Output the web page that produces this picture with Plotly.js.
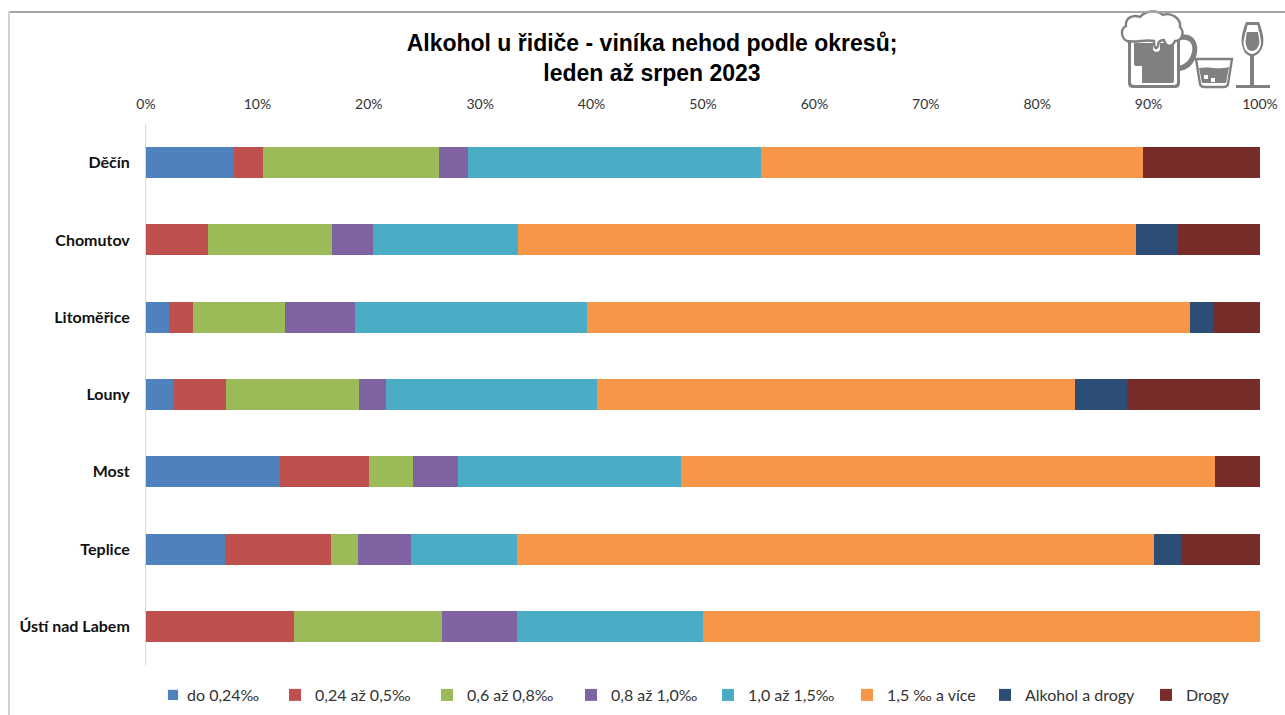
<!DOCTYPE html>
<html><head><meta charset="utf-8">
<script src="https://cdn.plot.ly/plotly-3.0.1.min.js"></script>
<style>html,body{margin:0;padding:0;background:#fff}#c{width:1285px;height:715px}</style></head>
<body><div id="c"></div>
<script>
const districts = ["Děčín","Chomutov","Litoměřice","Louny","Most","Teplice","Ústí nad Labem"];
const tickValues = [0,10,20,30,40,50,60,70,80,90,100];
const tickLabels = ["0%","10%","20%","30%","40%","50%","60%","70%","80%","90%","100%"];
const seriesNames = ["do 0,24‰","0,24 až 0,5‰","0,6 až 0,8‰","0,8 až 1,0‰","1,0 až 1,5‰","1,5 ‰ a více","Alkohol a drogy","Drogy"];
const colors = ["#4F81BD","#C0504D","#9BBB59","#8064A2","#4BACC6","#F79646","#2C4D75","#772C2A"];
const do024 = [7.9,0,2.1,2.4,12,7.1,0];
const r024_05 = [2.6,5.6,2.1,4.8,8,9.5,13.3];
const r06_08 = [15.8,11.1,8.3,11.9,4,2.4,13.3];
const r08_10 = [2.6,3.7,6.25,2.4,4,4.8,6.7];
const r10_15 = [26.3,13,20.8,19,20,9.5,16.7];
const r15plus = [34.3,55.5,54.15,42.9,48,57.2,50];
const alkDrogy = [0,3.7,2.1,4.7,0,2.4,0];
const drogy = [10.5,7.4,4.2,11.9,4,7.1,0];
const values = [do024,r024_05,r06_08,r08_10,r10_15,r15plus,alkDrogy,drogy];
const legendX = [147,275,427,571,708,847,985,1146];
const swatchX = [173,299,450,594,738,873,1015,1176];

const traces = seriesNames.map((n,i)=>({
  type:'bar',orientation:'h',name:n,y:districts,x:values[i],
  marker:{color:colors[i],line:{width:0}},
  legend:i===0?'legend':'legend'+(i+1),hoverinfo:'name+x'
}));

const icons = `<svg xmlns="http://www.w3.org/2000/svg" viewBox="1115 5 165 90" width="660" height="360">
<g fill="#808080" stroke="none">
<path d="M1128 38H1180V83Q1180 88 1175 88H1133Q1128 88 1128 83Z"/>
<path d="M1178 36C1192 30 1199 42 1197 53C1195 64 1187 71 1178 71V66C1185 65 1190 60 1192 52C1194 43 1188 37 1178 41Z"/>
<path d="M1131 41H1177V82Q1177 85 1174 85H1134Q1131 85 1131 82Z" fill="#fff"/>
<path d="M1134 43H1153V50Q1157 54 1160 50V43H1174V81Q1174 83 1172 83H1142V66H1136Q1134 66 1134 64Z"/>
<path d="M1127 41C1121 38 1120 29 1126 26C1125 18 1133 14 1140 17C1146 10 1158 10 1163 15C1171 12 1181 18 1180 27C1185 32 1182 41 1175 41C1172 48 1166 47 1164 40C1160 40 1158 42 1158 46C1156 50 1154 48 1154 41C1146 39 1136 43 1127 41Z" fill="#fff" stroke="#808080" stroke-width="2.4"/>
<path d="M1196 59H1232L1228 84Q1227 87 1224 87H1204Q1201 87 1200 84Z" fill="#fff" stroke="#808080" stroke-width="2.4"/>
<path d="M1199 68C1208 66 1220 70 1229 67L1226 83H1202Z"/>
<path d="M1246 22H1259C1263 32 1265 42 1262 48C1260 53 1257 55 1254 56V85H1270V88H1236V85H1250V56C1247 55 1244 53 1243 48C1240 42 1242 32 1246 22Z"/>
<path d="M1247.5 25H1257.5L1259 32H1246Z" fill="#fff"/>
<path d="M1245.5 32L1243.5 42C1243.5 48 1246 53 1252 54C1258 53 1261 48 1261 42L1259.5 32L1258 32L1259.5 42C1259 47 1256 51 1252 51C1248 51 1246 47 1245.5 42L1246.8 32Z" fill="#fff"/>
</g>
<rect x="1204" y="75" width="4" height="4" fill="#fff"/><rect x="1211" y="78" width="4" height="4" fill="#fff"/>
</svg>`;

const legends = {};
seriesNames.forEach((n,i)=>{
  legends[i===0?'legend':'legend'+(i+1)] = {
    x:legendX[i]/1285,y:1-695/715,xref:'container',yref:'container',xanchor:'left',yanchor:'middle',
    orientation:'h',bgcolor:'rgba(0,0,0,0)',borderwidth:0,
    font:{family:'Lato, sans-serif',size:16,color:'#333'}
  };
});

const layout = Object.assign({
  width:1285,height:715,
  margin:{l:146,r:25,t:124,b:50,autoexpand:false},
  paper_bgcolor:'#fff',plot_bgcolor:'#fff',
  barmode:'stack',bargap:0.6,showlegend:true,
  title:{text:'<b>Alkohol u řidiče - viníka nehod podle okresů;<br>leden až srpen 2023</b>',
    font:{family:'Liberation Sans, Arial, sans-serif',size:23,color:'#000'},
    x:652/1285,xanchor:'center',xref:'container',y:1-51/715,yanchor:'top',yref:'container'},
  xaxis:{side:'top',range:[0,100],tickmode:'array',tickvals:tickValues,ticktext:tickLabels,
    showgrid:false,zeroline:false,showline:false,ticks:'outside',ticklen:8,tickcolor:'rgba(0,0,0,0)',
    tickfont:{family:'Lato, sans-serif',size:14,color:'#333'}},
  yaxis:{autorange:false,range:[6.5,-0.5],type:'category',showgrid:false,zeroline:false,showline:true,
    linecolor:'#D9D9D9',linewidth:1,ticks:'outside',ticklen:12,tickcolor:'rgba(0,0,0,0)',
    tickfont:{family:'Lato, sans-serif',size:16,color:'#111',weight:'bold'}},
  shapes:[
    {type:'line',xref:'paper',yref:'paper',x0:-137/1114,x1:1139/1114,y0:1+112/541,y1:1+112/541,line:{color:'#A6A6A6',width:2}},
    {type:'line',xref:'paper',yref:'paper',x0:-137/1114,x1:-137/1114,y0:1+112/541,y1:-50/541,line:{color:'#D0D0D0',width:2}}
  ],
  images:[{source:'data:image/svg+xml;charset=utf-8,'+encodeURIComponent(icons),
    xref:'paper',yref:'paper',x:(1115-146)/1114,y:1+(124-5)/541,sizex:165/1114,sizey:90/541,
    xanchor:'left',yanchor:'top',sizing:'stretch',layer:'above'}]
},legends);

function placeSwatches(){
  document.querySelectorAll('#c .legendtext').forEach(txt=>{
    const t = txt.closest('.traces');
    const i = seriesNames.indexOf(txt.textContent.trim());
    const p = t && t.querySelector('.legendpoints');
    const s = p && p.querySelector('path');
    if(i<0 || !s) return;
    p.removeAttribute('transform');
    s.setAttribute('transform','scale(0.85)');
    const r = s.getBoundingClientRect();
    p.setAttribute('transform',`translate(${swatchX[i]-(r.left+r.width/2)},0)`);
  });
}
const gd = document.getElementById('c');
Plotly.newPlot(gd,traces,layout,{displayModeBar:false,staticPlot:true}).then(()=>{
  gd.on('plotly_afterplot',placeSwatches);
  placeSwatches();
  [0,30,100,300,800].forEach(ms=>setTimeout(placeSwatches,ms));
});
</script></body></html>
